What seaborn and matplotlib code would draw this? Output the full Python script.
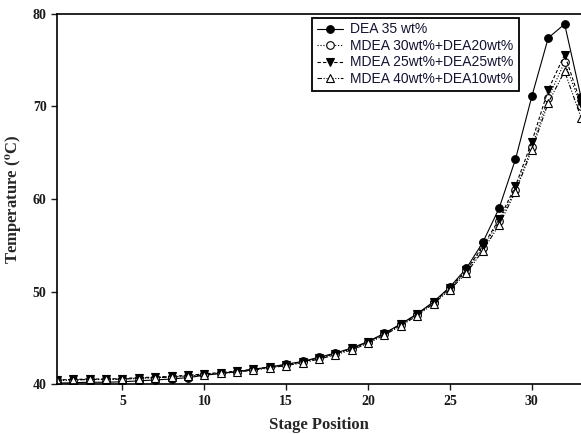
import numpy as np
import pandas as pd
import matplotlib
matplotlib.use('Agg')
import matplotlib.pyplot as plt
import seaborn as sns

# stage temperatures
stages = list(range(1, 34))
dea35 = [40.1, 40.15, 40.2, 40.2, 40.25, 40.35, 40.45, 40.55, 40.7, 40.95,
         41.15, 41.35, 41.6, 41.85, 42.15, 42.45, 42.9, 43.35, 43.9, 44.6,
         45.5, 46.5, 47.6, 48.9, 50.5, 52.5, 55.3, 59.0, 64.3, 71.1,
         77.4, 78.9, 71.0]
mdea30_dea20 = [40.4, 40.45, 40.5, 40.5, 40.55, 40.65, 40.7, 40.8, 40.9, 41.05,
                41.2, 41.35, 41.55, 41.8, 42.05, 42.35, 42.8, 43.25, 43.8, 44.5,
                45.4, 46.4, 47.5, 48.8, 50.3, 52.2, 54.7, 57.6, 61.0, 65.6,
                70.9, 74.8, 70.0]
mdea25_dea25 = [40.45, 40.5, 40.55, 40.55, 40.6, 40.7, 40.75, 40.85, 40.95, 41.1,
                41.25, 41.4, 41.6, 41.85, 42.1, 42.4, 42.85, 43.3, 43.85, 44.55,
                45.45, 46.45, 47.55, 48.85, 50.4, 52.3, 54.9, 57.8, 61.4, 66.2,
                71.8, 75.6, 70.3]
mdea40_dea10 = [40.4, 40.45, 40.5, 40.5, 40.55, 40.6, 40.7, 40.75, 40.85, 41.0,
                41.15, 41.3, 41.5, 41.75, 42.0, 42.3, 42.7, 43.15, 43.7, 44.4,
                45.3, 46.3, 47.4, 48.7, 50.2, 52.0, 54.4, 57.2, 60.8, 65.3,
                70.4, 73.8, 68.8]
labels = ['DEA 35 wt%', 'MDEA 30wt%+DEA20wt%', 'MDEA 25wt%+DEA25wt%', 'MDEA 40wt%+DEA10wt%']
series = [dea35, mdea30_dea20, mdea25_dea25, mdea40_dea10]

sns.set_style('ticks')
plt.rcParams['font.family'] = ['Liberation Serif', 'DejaVu Serif']
plt.rcParams['mathtext.fontset'] = 'stix'

fig = plt.figure(figsize=(5.81, 4.34), dpi=100)
ax = fig.add_axes([0.098, 0.115, 0.902, 0.853])

styles = [
    dict(marker='o', linestyle='-', markerfacecolor='black'),
    dict(marker='o', linestyle=':', markerfacecolor='white'),
    dict(marker='v', linestyle=(0, (3, 2)), markerfacecolor='black'),
    dict(marker='^', linestyle=(0, (4, 1.5, 1, 1.5, 1, 1.5)), markerfacecolor='white'),
]

for vals, lab, st in zip(series, labels, styles):
    sns.lineplot(x=stages, y=vals, ax=ax, label=lab, color='black', linewidth=0.8,
                 markersize=5.5, markeredgecolor='black', markeredgewidth=0.8, **st)

ax.set_xlim(1, 33)
ax.set_ylim(40, 80)
ax.set_xticks([5, 10, 15, 20, 25, 30])
ax.set_yticks([40, 50, 60, 70, 80])
ax.tick_params(direction='out', length=4, width=1, labelsize=10, colors='#1a1a1a')
for t in ax.get_xticklabels() + ax.get_yticklabels():
    t.set_fontweight('bold')
ax.spines['right'].set_visible(False)
for s in ['left', 'bottom', 'top']:
    ax.spines[s].set_linewidth(1.2)
    ax.spines[s].set_color('black')

ax.set_xlabel('Stage Position', fontsize=12, fontweight='bold', labelpad=7)
ax.set_ylabel(r'Temperature ($\mathbf{^{o}}$C)', fontsize=12, fontweight='bold', labelpad=6)

leg = ax.legend(loc='upper left', bbox_to_anchor=(0.487, 0.99), borderaxespad=0,
                frameon=True, fancybox=False, framealpha=1, edgecolor='black',
                handlelength=1.9, borderpad=0.35, labelspacing=0.18, handletextpad=0.5,
                prop={'family': 'Liberation Sans', 'size': 10})
leg.get_frame().set_linewidth(1.3)
for t in leg.get_texts():
    t.set_color('#141432')

fig.savefig('out.png', dpi=100)
